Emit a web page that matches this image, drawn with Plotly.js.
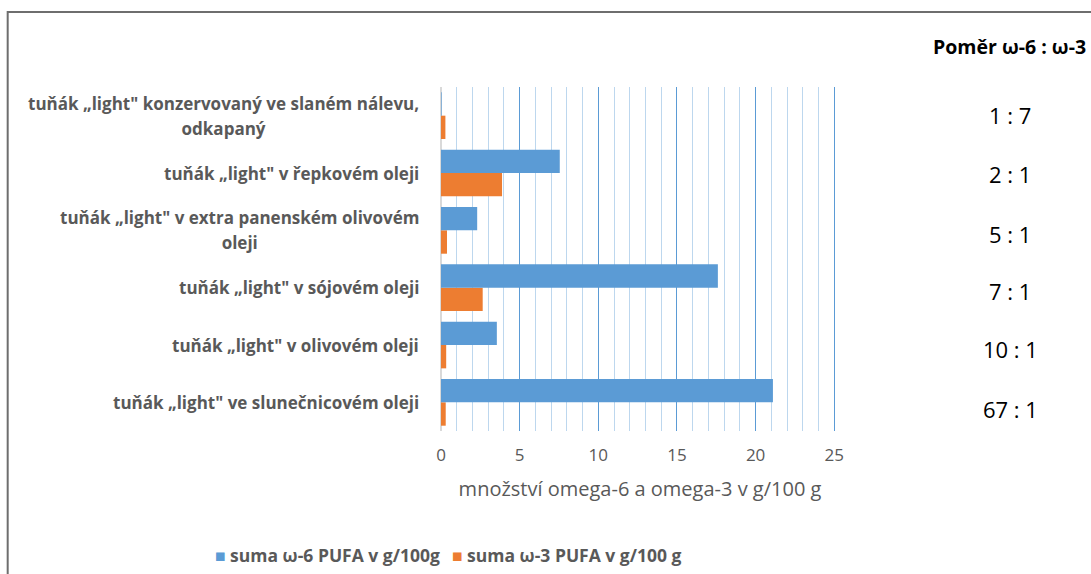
<!DOCTYPE html>
<html>
<head>
<meta charset="utf-8">
<script src="https://cdn.plot.ly/plotly-3.0.1.min.js"></script>
<style>
html,body{margin:0;padding:0;background:#fff;}
#chart{width:1091px;height:574px;}
</style>
</head>
<body>
<div id="chart"></div>
<script>
// categories from bottom to top
const categories = [
  'tuňák „light" ve slunečnicovém oleji',
  'tuňák „light" v olivovém oleji',
  'tuňák „light" v sójovém oleji',
  'tuňák „light" v extra panenském olivovém<br>oleji',
  'tuňák „light" v řepkovém oleji',
  'tuňák „light" konzervovaný ve slaném nálevu,<br>odkapaný'
];
const omega6 = [21.1, 3.55, 17.6, 2.3, 7.55, 0.04];
const omega3 = [0.3, 0.33, 2.65, 0.38, 3.88, 0.28];
const ratios = ['67 : 1', '10 : 1', '7 : 1', '5 : 1', '2 : 1', '1 : 7'];
const seriesNames = ['suma ω-6 PUFA v g/100g', 'suma ω-3 PUFA v g/100 g'];
const seriesColors = ['#5b9bd5', '#ed7d31'];
const xTitle = 'množství omega-6 a omega-3 v g/100 g';
const ratioTitle = 'Poměr ω-6 : ω-3';

const FONT = '"Open Sans", sans-serif';
const GRAY = '#595959';

const XMAX = 25.3;
const L = 441, T = 87, B = 143;
const W = 393 * XMAX / 25;
const R = 1091 - L - W;
const H = 574 - T - B;
const px2x = p => (p - L) / W;
const py2y = p => (574 - B - p) / H;

const traces = [
  {type:'bar', orientation:'h', name: seriesNames[1], y: categories, x: omega3,
   marker:{color:seriesColors[1]}, hoverinfo:'x'},
  {type:'bar', orientation:'h', name: seriesNames[0], y: categories, x: omega6,
   marker:{color:seriesColors[0]}, hoverinfo:'x'}
];

const LBL = 17;
const annotations = [];
const ratioShift = [-8, -5, -4.5, -5, -2, 0];
categories.forEach((c, i) => {
  const txt = c.split('<br>').map(s => `<span style="font-size:${LBL}px">${s}</span>`).join('<br>');
  annotations.push({xref:'paper', yref:'y', x:0, y:c, xanchor:'right', yanchor:'middle',
    xshift:-20, text:txt, showarrow:false, align:'center',
    font:{family:FONT, size:19, color:GRAY, weight:'bold'}});
  annotations.push({xref:'paper', yref:'y', x:px2x(1010), y:c, xanchor:'center', yanchor:'middle',
    yshift:ratioShift[i] + 1, text:ratios[i], showarrow:false,
    font:{family:FONT, size:22, color:'#000'}});
});
annotations.push({xref:'paper', yref:'paper', x:px2x(1009), y:py2y(46), xanchor:'center', yanchor:'middle',
  text:ratioTitle, showarrow:false, font:{family:FONT, size:19.5, color:'#000', weight:'bold'}});

// legend drawn as text with coloured squares
const legendX = [213, 450];
seriesNames.forEach((n, i) => {
  annotations.push({xref:'paper', yref:'paper', x:px2x(legendX[i]), y:py2y(555), xanchor:'left', yanchor:'middle',
    showarrow:false,
    text: `<span style="color:${seriesColors[i]}">■</span> ${n}`,
    font:{family:FONT, size:17.5, color:GRAY, weight:'bold'}});
});

const layout = {
  width:1091, height:574,
  margin:{l:L, r:R, t:T, b:B, pad:0},
  paper_bgcolor:'#fff', plot_bgcolor:'#fff',
  barmode:'group', bargap:0.185, bargroupgap:0,
  showlegend:false,
  xaxis:{range:[0,XMAX], dtick:5, tick0:0, showgrid:true, gridcolor:'#5b9bd5', gridwidth:1,
    minor:{dtick:1, showgrid:true, gridcolor:'#bdd7ee', gridwidth:1},
    zeroline:true, zerolinecolor:'#d9d9d9', zerolinewidth:2,
    showline:false, ticks:'', ticklabelstandoff:12,
    tickfont:{family:FONT, size:17, color:GRAY},
    title:{text:xTitle, standoff:16, font:{family:FONT, size:20, color:GRAY}},
    fixedrange:true},
  yaxis:{type:'category', showticklabels:false, showgrid:false, zeroline:false, showline:false,
    ticks:'', fixedrange:true},
  annotations:annotations,
  shapes:[{type:'rect', xref:'paper', yref:'paper', x0:px2x(8), x1:px2x(1100), y0:py2y(12), y1:py2y(590),
    line:{color:'#6e6e6e', width:2}, fillcolor:'rgba(0,0,0,0)', layer:'above'}]
};

Plotly.newPlot('chart', traces, layout, {displayModeBar:false, staticPlot:true});
</script>
</body>
</html>
